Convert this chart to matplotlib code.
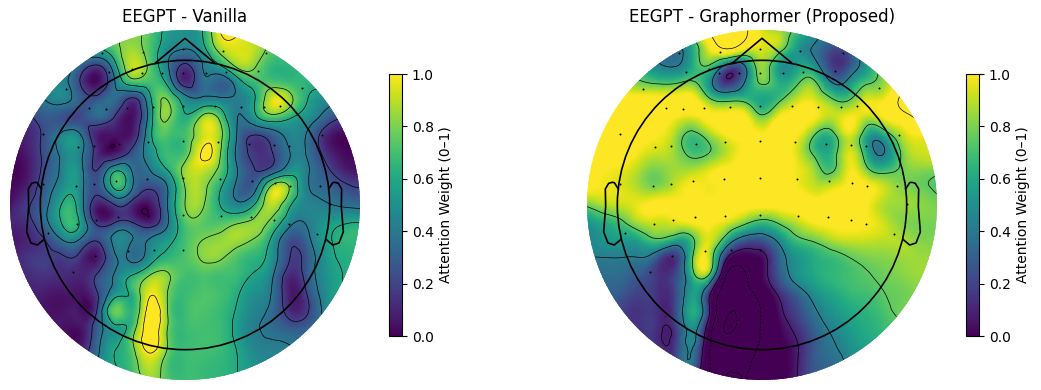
import numpy as np
import matplotlib
matplotlib.use("Agg")
import matplotlib.pyplot as plt
import matplotlib.tri as mtri
from matplotlib.patches import Circle

# values on a 21x21 grid, top row first
vanilla = [
    [.6,.6,.6,.6,.6,.6,.7,.8,.75,.55,.5,.6,1.02,1.05,.9,.8,.7,.7,.7,.7,.7],
    [.5,.5,.5,.5,.55,.6,.75,.85,.72,.5,.42,.55,.88,.95,.9,.75,.7,.7,.7,.7,.7],
    [.4,.4,.45,.5,.35,.2,.55,.92,.75,.42,.18,.4,.6,.85,.82,.66,.66,.68,.7,.7,.7],
    [.4,.4,.45,.45,.2,.03,.4,.7,.7,.55,.12,.35,.3,.5,.68,.72,.68,.65,.65,.65,.65],
    [.3,.3,.4,.45,.3,.28,.35,.15,.55,.8,.5,.45,.45,.42,.6,.95,.85,.6,.48,.45,.45],
    [.1,.15,.28,.25,.22,.33,.18,.04,.5,.82,.62,.85,.75,.4,.55,.72,.62,.5,.33,.2,.2],
    [.05,.1,.25,.45,.42,.08,.05,.08,.55,.72,.7,.92,.85,.38,.2,.3,.45,.38,.12,.02,.02],
    [.02,.08,.25,.45,.45,.12,.05,.25,.5,.68,.72,1.02,.82,.35,.15,.2,.4,.38,.15,.03,.03],
    [.0,.06,.25,.45,.47,.2,.56,.38,.4,.6,.85,.92,.75,.4,.2,.28,.5,.42,.25,.1,.05],
    [.02,.1,.3,.5,.48,.25,.64,.4,.22,.4,.8,.85,.62,.35,.35,.88,.78,.42,.33,.25,.2],
    [.05,.18,.35,.62,.5,.08,.2,.12,.05,.4,.8,.82,.6,.45,.62,.9,.62,.45,.42,.38,.35],
    [.1,.15,.35,.62,.58,.15,.2,.2,.1,.38,.72,.75,.72,.78,.84,.74,.45,.42,.52,.58,.6],
    [.05,.1,.2,.4,.38,.22,.45,.4,.42,.55,.7,.8,.84,.86,.78,.55,.25,.35,.55,.65,.65],
    [.1,.15,.18,.18,.15,.06,.38,.36,.5,.65,.72,.82,.82,.72,.65,.5,.2,.28,.52,.62,.62],
    [.1,.12,.15,.12,.1,.22,.42,.6,.8,.82,.7,.72,.7,.68,.58,.42,.12,.28,.5,.6,.6],
    [.1,.1,.08,.06,.05,.2,.5,.65,.97,.8,.68,.72,.7,.62,.5,.38,.08,.22,.48,.6,.6],
    [.06,.06,.05,.05,.05,.22,.78,.65,1.08,.8,.68,.72,.68,.58,.45,.35,.12,.18,.45,.6,.6],
    [.06,.06,.05,.05,.05,.3,.55,.7,1.1,.8,.68,.7,.68,.55,.42,.35,.28,.3,.45,.6,.6],
    [.06,.06,.06,.06,.06,.35,.58,.78,1.08,.8,.68,.7,.68,.58,.45,.42,.4,.4,.5,.6,.6],
    [.1,.1,.1,.1,.2,.4,.6,.72,.92,.72,.68,.68,.66,.6,.5,.45,.45,.45,.5,.6,.6],
    [.1,.1,.1,.1,.25,.45,.6,.7,.85,.72,.68,.68,.65,.6,.5,.45,.45,.45,.5,.6,.6],
]
graphormer = [
    [.5,.5,.5,.5,.5,.55,.75,1.25,1.3,1.25,.95,.85,.7,.5,.4,.5,.6,.7,.9,1,1],
    [.4,.4,.4,.4,.35,.35,.6,1.0,1.25,1.05,.95,.85,.55,.4,.25,.32,.6,.8,1.0,1.1,1.1],
    [.7,.7,.7,.6,.45,.4,.6,.75,.38,.42,.85,.55,.55,.5,.18,.25,.55,.85,1.05,1.1,1.1],
    [1,1,.9,.78,.72,.72,.78,.5,.14,.42,.78,.62,.72,.78,.42,.5,.72,.85,1.1,1.25,1.3],
    [1.05,1.05,1.05,1.05,1.05,1.05,1.05,.8,.7,.7,.58,.72,.92,.95,.78,.75,.95,1.0,1.25,1.3,1.3],
    [1.05,1.05,1.05,1.05,1.05,1.0,.95,1.02,1.05,1.05,.8,1.02,1.05,1.0,.9,1.0,.9,1.0,1.1,1.25,1.3],
    [1.05,1.05,1.05,1.03,1.0,.88,.7,.85,1.0,1.05,1.0,1.05,1.0,.75,.68,.95,.6,.62,.9,1.0,1.0],
    [1.05,1.05,1.05,.98,.92,.85,.7,.75,.9,1.02,1.05,1.05,.95,.7,.65,.95,.6,.42,.78,.92,.95],
    [1.05,1.0,.97,.88,.8,.86,.88,.96,1.02,1.05,1.05,1.05,.98,.85,.72,.98,.8,.68,.78,.82,.8],
    [1.03,.98,.95,.87,.82,.92,1.0,.98,1.02,1.05,1.05,1.05,1.0,.92,.95,1.02,1.02,.92,.82,.78,.72],
    [.78,.88,.92,.98,1.03,1.02,1.02,1.03,1.05,1.03,1.03,1.03,1.05,1.05,1.05,1.05,1.0,.88,.85,.83,.8],
    [.52,.62,.72,.88,.92,.95,1.0,1.02,.95,.8,.68,.78,.9,1.0,1.02,1.03,1.0,.92,.82,.8,.8],
    [.45,.52,.55,.6,.72,.6,.7,.95,.6,.3,.28,.48,.7,.78,.88,.92,.92,.9,.88,.82,.82],
    [.42,.42,.42,.42,.28,.14,.72,.9,.1,-.05,.03,.32,.52,.62,.68,.75,.8,.82,.85,.85,.85],
    [.35,.35,.35,.28,.16,.2,.65,.72,-.26,-.28,.0,.28,.5,.6,.66,.7,.74,.78,.82,.85,.85],
    [.3,.3,.28,.2,.15,.2,.55,.15,-.4,-.35,-.12,.14,.33,.5,.6,.67,.7,.75,.78,.82,.85],
    [.25,.25,.2,.15,.14,.2,.62,.1,-.52,-.45,-.22,.05,.22,.4,.52,.6,.65,.72,.78,.82,.85],
    [.25,.2,.18,.15,.14,.15,.5,-.1,-.6,-.45,-.22,.0,.14,.32,.45,.55,.62,.68,.75,.8,.85],
    [.25,.2,.18,.15,.14,.16,.45,-.2,-.45,-.35,-.2,-.02,.08,.28,.4,.5,.58,.65,.75,.8,.85],
    [.3,.25,.2,.2,.15,.2,.38,-.22,-.3,-.28,-.12,-.02,.08,.28,.35,.45,.52,.6,.7,.8,.85],
    [.3,.3,.25,.2,.2,.25,.3,-.22,-.22,-.25,-.1,-.02,.09,.25,.3,.4,.5,.6,.7,.8,.85],
]
vanilla_levels = [0, .2, .4, .6, .8, 1.0]
graphormer_levels = [-.57, -.24, .09, .42, .75, 1.2]

# sensor positions, same unit as the head outline (head radius 434)
sensor_x = [-250,-125,-7,113,242,-228,-160,-128,-70,-5,63,122,218,
            -358,352,-287,-237,-175,-95,-5,90,168,238,285,-427,410,
            -322,-272,-198,-110,-5,100,192,267,312,
            -427,-327,-273,-208,-114,-5,106,201,271,315,405,
            -324,-268,-201,-110,-5,107,197,267,311,
            -412,395,-172,-93,-7,-270,-337,435]
sensor_y = [457,460,468,463,455,400,408,395,395,397,397,398,403,
            348,350,292,288,292,295,298,298,295,293,298,214,210,
            175,177,182,189,192,189,184,179,177,
            63,57,64,73,78,81,78,73,66,58,58,
            -56,-44,-36,-32,-30,-32,-36,-44,-56,
            -83,-88,-137,-134,-134,-153,-200,2]

ear_x = [431,443,450,460,470,469,475,462,443,424]
ear_y = [48,67,68,65,48,-5,-81,-114,-120,-104]
nose_x = [-90,0,88]
nose_y = [425,500,427]

titles = ["EEGPT - Vanilla", "EEGPT - Graphormer (Proposed)"]

W, H = 1041, 390
fig = plt.figure(figsize=(W / 100, H / 100), dpi=100)

grid = np.linspace(-525, 525, 21)
X, Y = np.meshgrid(grid, grid[::-1])
tri = mtri.Triangulation(X.ravel(), Y.ravel())
refiner = mtri.UniformTriRefiner(tri)


def draw_map(left_px, cbar_px, values, levels, title):
    ax = fig.add_axes([left_px / W, 1 - 380 / H, 350 / W, 350 / H])
    z = np.array(values, dtype=float)
    tri_f, z_f = refiner.refine_field(z.ravel(), subdiv=3)

    clip = Circle((0, 0), 525, transform=ax.transData)
    im = ax.tripcolor(tri_f, z_f, cmap="viridis", vmin=0, vmax=1, shading="gouraud")
    im.set_clip_path(clip)

    cs = ax.tricontour(tri_f, z_f, levels=levels, colors="k", linewidths=0.5)
    cs.set_clip_path(clip)

    ax.scatter(sensor_x, sensor_y, s=2, c="k", linewidths=0, zorder=3)

    ax.add_patch(Circle((0, 0), 434, fill=False, ec="k", lw=1.2, zorder=4))
    ax.plot(nose_x, nose_y, color="k", lw=1.2, zorder=4)
    ax.plot(ear_x, ear_y, color="k", lw=1.2, zorder=4)
    ax.plot([-v for v in ear_x], ear_y, color="k", lw=1.2, zorder=4)

    ax.set_xlim(-525, 525)
    ax.set_ylim(-525, 525)
    ax.axis("off")
    ax.set_title(title, fontsize=12, pad=6)

    cax = fig.add_axes([cbar_px / W, 1 - 336 / H, 13 / W, 262 / H])
    cb = fig.colorbar(im, cax=cax)
    cb.set_ticks([0, .2, .4, .6, .8, 1.0])
    cb.set_label("Attention Weight (0–1)", fontsize=10)


draw_map(10, 389, vanilla, vanilla_levels, titles[0])
draw_map(587, 966, graphormer, graphormer_levels, titles[1])

fig.savefig("out.png", dpi=100)
